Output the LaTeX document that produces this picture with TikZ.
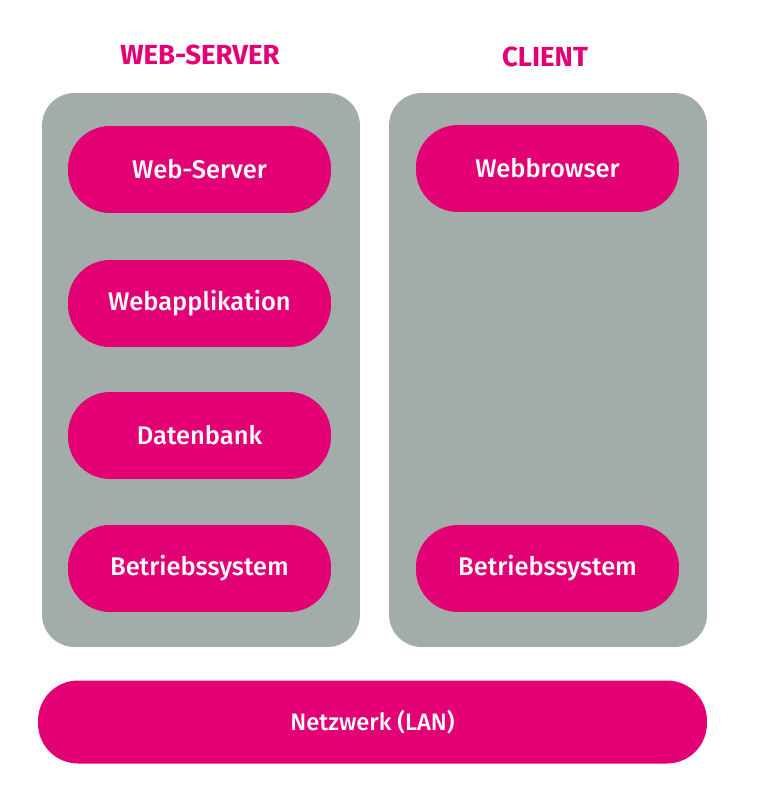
\documentclass[tikz,border=0pt]{standalone}
\usepackage{fontspec}
\setmainfont{Fira Sans}[UprightFont=* Medium, BoldFont=* Bold]
\usetikzlibrary{positioning}

\definecolor{tmagenta}{HTML}{E20074}
\definecolor{tgray}{HTML}{A2ADAA}

\tikzset{
    panel/.style={fill=tgray, rounded corners=0.65cm, minimum width=6.36cm, minimum height=11.08cm},
    pill/.style={fill=tmagenta, text=white, rounded corners=0.84cm, minimum width=5.26cm, minimum height=1.74cm, font=\fontsize{14.5}{17}\selectfont},
    heading/.style={text=tmagenta, font=\fontsize{15.7}{18}\selectfont\bfseries}
}

\begin{document}
\begin{tikzpicture}[x=0.02cm, y=-0.02cm]

    % --- Rahmen (Bildgroesse) ---
    \useasboundingbox (0,0) rectangle (766,807);

    % --- Ueberschriften ---
    \node[heading] (hServer) at (200,55) {WEB-SERVER};
    \node[heading] (hClient) at (545,57) {CLIENT};

    % --- graue Flaechen ---
    \node[panel] (server) at (201,370) {};
    \node[panel] (client) at (548,370) {};

    % --- Schichten Web-Server ---
    \node[pill] (webserver) at (199.5,169.5) {Web-Server};
    \node[pill] (webapp)    at (199.5,303.5) {Webapplikation};
    \node[pill] (db)        at (199.5,435.5) {Datenbank};
    \node[pill] (osServer)  at (199.5,568.5) {Betriebssystem};

    % --- Schichten Client ---
    \node[pill] (browser)  at (547.5,168.5) {Webbrowser};
    \node[pill] (osClient) at (547.5,568.5) {Betriebssystem};

    % --- Netzwerk ---
    \node[pill, minimum width=13.38cm, minimum height=1.66cm, rounded corners=0.8cm, font=\fontsize{13.5}{16}\selectfont] (lan) at (372.5,722) {Netzwerk (LAN)};

\end{tikzpicture}
\end{document}
